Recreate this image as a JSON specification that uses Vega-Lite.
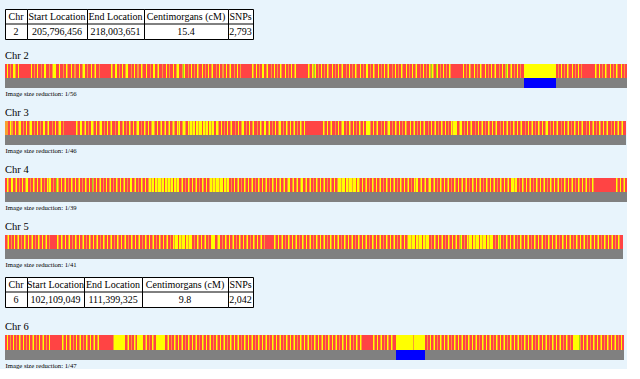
{
"$schema":"https://vega.github.io/schema/vega-lite/v6.json",
"background":"#E8F4FC",
"padding":{"left":4,"top":8,"right":0,"bottom":0},
"config":{"view":{"stroke":null},"font":"Liberation Serif","title":{"font":"Liberation Serif","fontWeight":"normal","color":"black"}},
"datasets":{
"t1":[{"col":"Chr","r":"h","t":"Chr"},{"col":"Chr","r":"d","t":"2"},{"col":"Start","r":"h","t":"Start Location"},{"col":"Start","r":"d","t":"205,796,456"},{"col":"End","r":"h","t":"End Location"},{"col":"End","r":"d","t":"218,003,651"},{"col":"cM","r":"h","t":"Centimorgans (cM)"},{"col":"cM","r":"d","t":"15.4"},{"col":"SNPs","r":"h","t":"SNPs"},{"col":"SNPs","r":"d","t":"2,793"}],
"t2":[{"col":"Chr","r":"h","t":"Chr"},{"col":"Chr","r":"d","t":"6"},{"col":"Start","r":"h","t":"Start Location"},{"col":"Start","r":"d","t":"102,109,049"},{"col":"End","r":"h","t":"End Location"},{"col":"End","r":"d","t":"111,399,325"},{"col":"cM","r":"h","t":"Centimorgans (cM)"},{"col":"cM","r":"d","t":"9.8"},{"col":"SNPs","r":"h","t":"SNPs"},{"col":"SNPs","r":"d","t":"2,042"}],
"c2":[{"s":0,"c":"R"},{"s":2,"c":"Y"},{"s":3,"c":"R"},{"s":5,"c":"O"},{"s":6,"c":"R"},{"s":8,"c":"Y"},{"s":10,"c":"O"},{"s":11,"c":"R"},{"s":13,"c":"Y"},{"s":14,"c":"R"},{"s":26,"c":"Y"},{"s":27,"c":"R"},{"s":29,"c":"O"},{"s":30,"c":"R"},{"s":32,"c":"Y"},{"s":33,"c":"R"},{"s":36,"c":"O"},{"s":37,"c":"R"},{"s":39,"c":"Y"},{"s":41,"c":"R"},{"s":44,"c":"O"},{"s":45,"c":"R"},{"s":47,"c":"O"},{"s":48,"c":"Y"},{"s":51,"c":"R"},{"s":54,"c":"Y"},{"s":55,"c":"R"},{"s":58,"c":"O"},{"s":59,"c":"R"},{"s":61,"c":"Y"},{"s":62,"c":"O"},{"s":63,"c":"R"},{"s":66,"c":"Y"},{"s":67,"c":"R"},{"s":69,"c":"O"},{"s":71,"c":"R"},{"s":74,"c":"Y"},{"s":75,"c":"R"},{"s":77,"c":"O"},{"s":78,"c":"Y"},{"s":80,"c":"R"},{"s":82,"c":"O"},{"s":83,"c":"R"},{"s":86,"c":"Y"},{"s":87,"c":"R"},{"s":89,"c":"O"},{"s":90,"c":"Y"},{"s":91,"c":"R"},{"s":94,"c":"O"},{"s":95,"c":"R"},{"s":106,"c":"Y"},{"s":107,"c":"O"},{"s":108,"c":"R"},{"s":110,"c":"Y"},{"s":112,"c":"R"},{"s":114,"c":"O"},{"s":115,"c":"R"},{"s":117,"c":"Y"},{"s":118,"c":"R"},{"s":120,"c":"O"},{"s":121,"c":"Y"},{"s":123,"c":"R"},{"s":126,"c":"O"},{"s":127,"c":"R"},{"s":129,"c":"Y"},{"s":130,"c":"R"},{"s":132,"c":"O"},{"s":134,"c":"R"},{"s":136,"c":"Y"},{"s":137,"c":"O"},{"s":138,"c":"R"},{"s":141,"c":"Y"},{"s":142,"c":"R"},{"s":145,"c":"O"},{"s":146,"c":"R"},{"s":148,"c":"Y"},{"s":150,"c":"R"},{"s":152,"c":"O"},{"s":153,"c":"Y"},{"s":154,"c":"R"},{"s":157,"c":"O"},{"s":158,"c":"R"},{"s":161,"c":"Y"},{"s":162,"c":"R"},{"s":164,"c":"O"},{"s":165,"c":"R"},{"s":168,"c":"Y"},{"s":169,"c":"R"},{"s":171,"c":"O"},{"s":172,"c":"Y"},{"s":174,"c":"R"},{"s":177,"c":"O"},{"s":178,"c":"G"},{"s":179,"c":"Y"},{"s":180,"c":"R"},{"s":183,"c":"O"},{"s":184,"c":"R"},{"s":186,"c":"Y"},{"s":187,"c":"R"},{"s":189,"c":"O"},{"s":190,"c":"R"},{"s":192,"c":"Y"},{"s":193,"c":"O"},{"s":194,"c":"R"},{"s":197,"c":"Y"},{"s":198,"c":"R"},{"s":200,"c":"O"},{"s":201,"c":"R"},{"s":203,"c":"Y"},{"s":204,"c":"R"},{"s":206,"c":"O"},{"s":207,"c":"Y"},{"s":208,"c":"R"},{"s":211,"c":"O"},{"s":212,"c":"R"},{"s":214,"c":"Y"},{"s":215,"c":"R"},{"s":217,"c":"O"},{"s":219,"c":"R"},{"s":221,"c":"Y"},{"s":222,"c":"R"},{"s":224,"c":"O"},{"s":225,"c":"Y"},{"s":226,"c":"R"},{"s":229,"c":"O"},{"s":230,"c":"R"},{"s":232,"c":"Y"},{"s":233,"c":"R"},{"s":235,"c":"O"},{"s":236,"c":"R"},{"s":247,"c":"Y"},{"s":248,"c":"O"},{"s":249,"c":"R"},{"s":251,"c":"Y"},{"s":252,"c":"R"},{"s":254,"c":"O"},{"s":255,"c":"R"},{"s":257,"c":"Y"},{"s":259,"c":"R"},{"s":261,"c":"O"},{"s":262,"c":"Y"},{"s":263,"c":"R"},{"s":266,"c":"O"},{"s":267,"c":"R"},{"s":269,"c":"Y"},{"s":270,"c":"R"},{"s":272,"c":"O"},{"s":273,"c":"R"},{"s":275,"c":"Y"},{"s":276,"c":"O"},{"s":277,"c":"R"},{"s":280,"c":"Y"},{"s":281,"c":"R"},{"s":283,"c":"O"},{"s":284,"c":"R"},{"s":286,"c":"Y"},{"s":287,"c":"R"},{"s":289,"c":"O"},{"s":290,"c":"Y"},{"s":291,"c":"R"},{"s":303,"c":"Y"},{"s":304,"c":"O"},{"s":305,"c":"R"},{"s":307,"c":"Y"},{"s":308,"c":"O"},{"s":309,"c":"G"},{"s":310,"c":"Y"},{"s":311,"c":"R"},{"s":313,"c":"O"},{"s":314,"c":"R"},{"s":316,"c":"Y"},{"s":317,"c":"R"},{"s":319,"c":"O"},{"s":320,"c":"R"},{"s":322,"c":"Y"},{"s":323,"c":"O"},{"s":324,"c":"R"},{"s":327,"c":"Y"},{"s":328,"c":"R"},{"s":330,"c":"O"},{"s":331,"c":"R"},{"s":333,"c":"Y"},{"s":334,"c":"R"},{"s":336,"c":"O"},{"s":337,"c":"Y"},{"s":338,"c":"R"},{"s":341,"c":"O"},{"s":342,"c":"R"},{"s":344,"c":"Y"},{"s":345,"c":"R"},{"s":347,"c":"O"},{"s":348,"c":"R"},{"s":350,"c":"Y"},{"s":351,"c":"O"},{"s":352,"c":"R"},{"s":355,"c":"Y"},{"s":356,"c":"R"},{"s":358,"c":"O"},{"s":359,"c":"R"},{"s":361,"c":"Y"},{"s":363,"c":"R"},{"s":365,"c":"O"},{"s":366,"c":"R"},{"s":368,"c":"Y"},{"s":369,"c":"O"},{"s":370,"c":"R"},{"s":373,"c":"Y"},{"s":374,"c":"R"},{"s":376,"c":"O"},{"s":377,"c":"R"},{"s":379,"c":"Y"},{"s":380,"c":"R"},{"s":382,"c":"O"},{"s":383,"c":"Y"},{"s":384,"c":"R"},{"s":387,"c":"O"},{"s":388,"c":"R"},{"s":390,"c":"Y"},{"s":391,"c":"R"},{"s":393,"c":"O"},{"s":394,"c":"R"},{"s":396,"c":"Y"},{"s":397,"c":"O"},{"s":398,"c":"R"},{"s":401,"c":"Y"},{"s":402,"c":"R"},{"s":404,"c":"O"},{"s":405,"c":"R"},{"s":407,"c":"Y"},{"s":408,"c":"R"},{"s":410,"c":"O"},{"s":411,"c":"Y"},{"s":412,"c":"R"},{"s":415,"c":"O"},{"s":416,"c":"R"},{"s":418,"c":"Y"},{"s":419,"c":"R"},{"s":421,"c":"O"},{"s":422,"c":"R"},{"s":424,"c":"Y"},{"s":425,"c":"O"},{"s":426,"c":"G"},{"s":427,"c":"Y"},{"s":428,"c":"O"},{"s":429,"c":"R"},{"s":431,"c":"G"},{"s":432,"c":"Y"},{"s":433,"c":"R"},{"s":435,"c":"O"},{"s":436,"c":"R"},{"s":438,"c":"Y"},{"s":439,"c":"R"},{"s":441,"c":"O"},{"s":442,"c":"R"},{"s":444,"c":"Y"},{"s":445,"c":"O"},{"s":446,"c":"R"},{"s":458,"c":"Y"},{"s":459,"c":"R"},{"s":461,"c":"O"},{"s":462,"c":"R"},{"s":464,"c":"Y"},{"s":465,"c":"O"},{"s":466,"c":"R"},{"s":469,"c":"Y"},{"s":470,"c":"R"},{"s":472,"c":"O"},{"s":473,"c":"R"},{"s":475,"c":"Y"},{"s":476,"c":"O"},{"s":477,"c":"R"},{"s":480,"c":"Y"},{"s":481,"c":"R"},{"s":483,"c":"O"},{"s":484,"c":"R"},{"s":486,"c":"Y"},{"s":487,"c":"R"},{"s":489,"c":"O"},{"s":490,"c":"Y"},{"s":491,"c":"R"},{"s":494,"c":"O"},{"s":495,"c":"R"},{"s":497,"c":"Y"},{"s":498,"c":"R"},{"s":500,"c":"O"},{"s":501,"c":"G"},{"s":502,"c":"Y"},{"s":503,"c":"R"},{"s":505,"c":"O"},{"s":506,"c":"Y"},{"s":507,"c":"R"},{"s":509,"c":"O"},{"s":510,"c":"R"},{"s":512,"c":"Y"},{"s":513,"c":"R"},{"s":515,"c":"O"},{"s":516,"c":"R"},{"s":519,"c":"Y"},{"s":551,"c":"R"},{"s":553,"c":"O"},{"s":554,"c":"R"},{"s":556,"c":"Y"},{"s":557,"c":"R"},{"s":559,"c":"O"},{"s":560,"c":"R"},{"s":562,"c":"Y"},{"s":563,"c":"O"},{"s":564,"c":"R"},{"s":567,"c":"Y"},{"s":568,"c":"R"},{"s":570,"c":"O"},{"s":571,"c":"R"},{"s":573,"c":"Y"},{"s":574,"c":"R"},{"s":576,"c":"O"},{"s":577,"c":"R"},{"s":590,"c":"Y"},{"s":591,"c":"O"},{"s":592,"c":"R"},{"s":594,"c":"Y"},{"s":595,"c":"R"},{"s":597,"c":"O"},{"s":598,"c":"R"},{"s":600,"c":"Y"},{"s":601,"c":"O"},{"s":602,"c":"R"},{"s":605,"c":"Y"},{"s":606,"c":"R"},{"s":608,"c":"O"},{"s":609,"c":"R"},{"s":611,"c":"Y"},{"s":612,"c":"O"},{"s":613,"c":"R"},{"s":616,"c":"Y"},{"s":617,"c":"R"},{"s":619,"c":"O"},{"s":620,"c":"R"}],
"c3":[{"s":0,"c":"O"},{"s":3,"c":"R"},{"s":5,"c":"Y"},{"s":6,"c":"O"},{"s":8,"c":"R"},{"s":10,"c":"Y"},{"s":11,"c":"R"},{"s":13,"c":"O"},{"s":14,"c":"Y"},{"s":16,"c":"R"},{"s":18,"c":"O"},{"s":19,"c":"R"},{"s":21,"c":"Y"},{"s":22,"c":"R"},{"s":24,"c":"O"},{"s":25,"c":"Y"},{"s":27,"c":"R"},{"s":29,"c":"O"},{"s":30,"c":"R"},{"s":32,"c":"Y"},{"s":33,"c":"R"},{"s":35,"c":"O"},{"s":36,"c":"R"},{"s":38,"c":"Y"},{"s":40,"c":"R"},{"s":42,"c":"O"},{"s":43,"c":"Y"},{"s":44,"c":"R"},{"s":47,"c":"O"},{"s":48,"c":"R"},{"s":50,"c":"Y"},{"s":51,"c":"R"},{"s":53,"c":"O"},{"s":54,"c":"Y"},{"s":56,"c":"R"},{"s":58,"c":"O"},{"s":59,"c":"R"},{"s":71,"c":"Y"},{"s":72,"c":"O"},{"s":73,"c":"R"},{"s":75,"c":"Y"},{"s":77,"c":"R"},{"s":79,"c":"O"},{"s":80,"c":"Y"},{"s":81,"c":"R"},{"s":83,"c":"O"},{"s":84,"c":"R"},{"s":86,"c":"Y"},{"s":88,"c":"O"},{"s":89,"c":"R"},{"s":91,"c":"Y"},{"s":92,"c":"R"},{"s":94,"c":"O"},{"s":95,"c":"Y"},{"s":97,"c":"R"},{"s":99,"c":"O"},{"s":100,"c":"R"},{"s":102,"c":"Y"},{"s":103,"c":"R"},{"s":105,"c":"O"},{"s":106,"c":"Y"},{"s":107,"c":"R"},{"s":110,"c":"O"},{"s":111,"c":"R"},{"s":113,"c":"Y"},{"s":115,"c":"R"},{"s":117,"c":"O"},{"s":118,"c":"Y"},{"s":119,"c":"R"},{"s":121,"c":"O"},{"s":122,"c":"R"},{"s":124,"c":"Y"},{"s":125,"c":"O"},{"s":126,"c":"R"},{"s":128,"c":"Y"},{"s":129,"c":"R"},{"s":131,"c":"O"},{"s":132,"c":"Y"},{"s":134,"c":"R"},{"s":136,"c":"O"},{"s":137,"c":"R"},{"s":139,"c":"Y"},{"s":140,"c":"O"},{"s":141,"c":"R"},{"s":143,"c":"Y"},{"s":144,"c":"R"},{"s":146,"c":"O"},{"s":147,"c":"Y"},{"s":149,"c":"O"},{"s":150,"c":"R"},{"s":152,"c":"Y"},{"s":153,"c":"R"},{"s":155,"c":"O"},{"s":156,"c":"Y"},{"s":157,"c":"R"},{"s":159,"c":"O"},{"s":160,"c":"Y"},{"s":161,"c":"R"},{"s":163,"c":"O"},{"s":164,"c":"Y"},{"s":165,"c":"R"},{"s":167,"c":"O"},{"s":168,"c":"Y"},{"s":169,"c":"O"},{"s":170,"c":"R"},{"s":172,"c":"Y"},{"s":173,"c":"O"},{"s":174,"c":"Y"},{"s":175,"c":"R"},{"s":177,"c":"O"},{"s":178,"c":"Y"},{"s":180,"c":"O"},{"s":181,"c":"R"},{"s":183,"c":"Y"},{"s":184,"c":"O"},{"s":185,"c":"Y"},{"s":187,"c":"O"},{"s":188,"c":"Y"},{"s":190,"c":"R"},{"s":191,"c":"Y"},{"s":193,"c":"O"},{"s":194,"c":"Y"},{"s":197,"c":"R"},{"s":198,"c":"Y"},{"s":200,"c":"O"},{"s":201,"c":"Y"},{"s":203,"c":"R"},{"s":204,"c":"Y"},{"s":206,"c":"O"},{"s":207,"c":"Y"},{"s":209,"c":"R"},{"s":211,"c":"Y"},{"s":213,"c":"O"},{"s":214,"c":"R"},{"s":216,"c":"Y"},{"s":217,"c":"R"},{"s":219,"c":"O"},{"s":220,"c":"R"},{"s":222,"c":"Y"},{"s":223,"c":"R"},{"s":225,"c":"O"},{"s":226,"c":"Y"},{"s":227,"c":"R"},{"s":230,"c":"O"},{"s":231,"c":"R"},{"s":233,"c":"Y"},{"s":234,"c":"R"},{"s":236,"c":"O"},{"s":237,"c":"Y"},{"s":239,"c":"R"},{"s":241,"c":"O"},{"s":242,"c":"R"},{"s":244,"c":"Y"},{"s":245,"c":"R"},{"s":247,"c":"O"},{"s":248,"c":"Y"},{"s":249,"c":"R"},{"s":252,"c":"O"},{"s":253,"c":"R"},{"s":255,"c":"Y"},{"s":256,"c":"O"},{"s":257,"c":"R"},{"s":259,"c":"Y"},{"s":261,"c":"R"},{"s":263,"c":"O"},{"s":264,"c":"Y"},{"s":265,"c":"R"},{"s":267,"c":"O"},{"s":268,"c":"R"},{"s":270,"c":"Y"},{"s":271,"c":"R"},{"s":273,"c":"O"},{"s":274,"c":"Y"},{"s":276,"c":"R"},{"s":278,"c":"O"},{"s":279,"c":"R"},{"s":281,"c":"Y"},{"s":282,"c":"O"},{"s":283,"c":"R"},{"s":285,"c":"Y"},{"s":286,"c":"R"},{"s":288,"c":"O"},{"s":289,"c":"Y"},{"s":290,"c":"R"},{"s":292,"c":"O"},{"s":293,"c":"R"},{"s":295,"c":"Y"},{"s":296,"c":"O"},{"s":297,"c":"R"},{"s":299,"c":"Y"},{"s":300,"c":"R"},{"s":318,"c":"Y"},{"s":319,"c":"O"},{"s":320,"c":"R"},{"s":322,"c":"Y"},{"s":323,"c":"R"},{"s":325,"c":"O"},{"s":326,"c":"Y"},{"s":327,"c":"R"},{"s":330,"c":"O"},{"s":331,"c":"R"},{"s":333,"c":"Y"},{"s":334,"c":"R"},{"s":336,"c":"O"},{"s":337,"c":"Y"},{"s":339,"c":"R"},{"s":341,"c":"O"},{"s":342,"c":"R"},{"s":344,"c":"Y"},{"s":345,"c":"O"},{"s":346,"c":"R"},{"s":348,"c":"Y"},{"s":349,"c":"R"},{"s":351,"c":"O"},{"s":352,"c":"R"},{"s":354,"c":"Y"},{"s":355,"c":"O"},{"s":356,"c":"R"},{"s":358,"c":"Y"},{"s":359,"c":"R"},{"s":361,"c":"Y"},{"s":365,"c":"O"},{"s":366,"c":"R"},{"s":368,"c":"Y"},{"s":369,"c":"R"},{"s":371,"c":"O"},{"s":372,"c":"Y"},{"s":373,"c":"R"},{"s":376,"c":"O"},{"s":377,"c":"R"},{"s":379,"c":"Y"},{"s":380,"c":"R"},{"s":382,"c":"O"},{"s":383,"c":"Y"},{"s":385,"c":"R"},{"s":387,"c":"O"},{"s":388,"c":"R"},{"s":390,"c":"Y"},{"s":391,"c":"O"},{"s":392,"c":"R"},{"s":394,"c":"Y"},{"s":395,"c":"R"},{"s":397,"c":"O"},{"s":398,"c":"R"},{"s":400,"c":"Y"},{"s":401,"c":"O"},{"s":402,"c":"R"},{"s":405,"c":"Y"},{"s":406,"c":"R"},{"s":408,"c":"O"},{"s":409,"c":"Y"},{"s":410,"c":"R"},{"s":412,"c":"O"},{"s":413,"c":"R"},{"s":415,"c":"Y"},{"s":416,"c":"R"},{"s":418,"c":"O"},{"s":419,"c":"Y"},{"s":420,"c":"R"},{"s":423,"c":"O"},{"s":424,"c":"R"},{"s":426,"c":"Y"},{"s":427,"c":"R"},{"s":429,"c":"O"},{"s":430,"c":"Y"},{"s":431,"c":"R"},{"s":433,"c":"O"},{"s":434,"c":"R"},{"s":436,"c":"Y"},{"s":437,"c":"O"},{"s":438,"c":"R"},{"s":440,"c":"Y"},{"s":441,"c":"R"},{"s":443,"c":"O"},{"s":444,"c":"R"},{"s":446,"c":"Y"},{"s":447,"c":"O"},{"s":448,"c":"Y"},{"s":452,"c":"R"},{"s":454,"c":"O"},{"s":455,"c":"Y"},{"s":457,"c":"R"},{"s":459,"c":"O"},{"s":460,"c":"R"},{"s":462,"c":"Y"},{"s":463,"c":"R"},{"s":465,"c":"O"},{"s":466,"c":"Y"},{"s":467,"c":"R"},{"s":470,"c":"O"},{"s":471,"c":"R"},{"s":473,"c":"Y"},{"s":474,"c":"R"},{"s":476,"c":"O"},{"s":477,"c":"Y"},{"s":478,"c":"R"},{"s":480,"c":"O"},{"s":481,"c":"R"},{"s":483,"c":"Y"},{"s":484,"c":"O"},{"s":485,"c":"R"},{"s":487,"c":"Y"},{"s":488,"c":"R"},{"s":490,"c":"O"},{"s":491,"c":"Y"},{"s":492,"c":"R"},{"s":495,"c":"O"},{"s":496,"c":"R"},{"s":498,"c":"Y"},{"s":499,"c":"R"},{"s":501,"c":"O"},{"s":502,"c":"Y"},{"s":503,"c":"R"},{"s":505,"c":"O"},{"s":506,"c":"R"},{"s":508,"c":"Y"},{"s":509,"c":"O"},{"s":510,"c":"R"},{"s":512,"c":"Y"},{"s":513,"c":"R"},{"s":515,"c":"O"},{"s":516,"c":"Y"},{"s":517,"c":"R"},{"s":520,"c":"O"},{"s":521,"c":"R"},{"s":523,"c":"Y"},{"s":524,"c":"R"},{"s":526,"c":"O"},{"s":527,"c":"Y"},{"s":528,"c":"R"},{"s":530,"c":"O"},{"s":531,"c":"R"},{"s":533,"c":"Y"},{"s":534,"c":"O"},{"s":535,"c":"R"},{"s":537,"c":"Y"},{"s":538,"c":"R"},{"s":540,"c":"O"},{"s":541,"c":"Y"},{"s":543,"c":"R"},{"s":545,"c":"O"},{"s":546,"c":"R"},{"s":548,"c":"Y"},{"s":549,"c":"R"},{"s":551,"c":"O"},{"s":552,"c":"Y"},{"s":553,"c":"R"},{"s":556,"c":"O"},{"s":557,"c":"R"},{"s":559,"c":"Y"},{"s":560,"c":"R"},{"s":562,"c":"O"},{"s":563,"c":"Y"},{"s":564,"c":"R"},{"s":566,"c":"O"},{"s":567,"c":"R"},{"s":569,"c":"Y"},{"s":570,"c":"O"},{"s":571,"c":"R"},{"s":573,"c":"Y"},{"s":574,"c":"R"},{"s":576,"c":"O"},{"s":577,"c":"Y"},{"s":578,"c":"R"},{"s":581,"c":"O"},{"s":582,"c":"R"},{"s":584,"c":"Y"},{"s":585,"c":"R"},{"s":587,"c":"O"},{"s":588,"c":"Y"},{"s":589,"c":"R"},{"s":591,"c":"O"},{"s":592,"c":"R"},{"s":594,"c":"Y"},{"s":595,"c":"O"},{"s":596,"c":"R"},{"s":598,"c":"Y"},{"s":599,"c":"R"},{"s":601,"c":"O"},{"s":602,"c":"Y"},{"s":603,"c":"R"},{"s":606,"c":"O"},{"s":607,"c":"R"},{"s":609,"c":"Y"},{"s":610,"c":"R"},{"s":612,"c":"O"},{"s":613,"c":"Y"},{"s":614,"c":"R"},{"s":616,"c":"O"},{"s":617,"c":"Y"},{"s":618,"c":"R"}],
"c4":[{"s":0,"c":"R"},{"s":2,"c":"Y"},{"s":3,"c":"O"},{"s":4,"c":"R"},{"s":6,"c":"Y"},{"s":8,"c":"R"},{"s":10,"c":"O"},{"s":11,"c":"Y"},{"s":12,"c":"R"},{"s":14,"c":"O"},{"s":15,"c":"R"},{"s":17,"c":"Y"},{"s":18,"c":"R"},{"s":20,"c":"O"},{"s":21,"c":"Y"},{"s":23,"c":"R"},{"s":25,"c":"O"},{"s":26,"c":"R"},{"s":28,"c":"Y"},{"s":29,"c":"O"},{"s":30,"c":"R"},{"s":32,"c":"Y"},{"s":33,"c":"R"},{"s":35,"c":"O"},{"s":36,"c":"Y"},{"s":37,"c":"R"},{"s":39,"c":"O"},{"s":40,"c":"R"},{"s":42,"c":"Y"},{"s":43,"c":"O"},{"s":44,"c":"Y"},{"s":46,"c":"R"},{"s":48,"c":"O"},{"s":49,"c":"R"},{"s":51,"c":"G"},{"s":52,"c":"Y"},{"s":53,"c":"O"},{"s":54,"c":"R"},{"s":56,"c":"Y"},{"s":57,"c":"R"},{"s":59,"c":"O"},{"s":60,"c":"Y"},{"s":61,"c":"R"},{"s":63,"c":"O"},{"s":64,"c":"R"},{"s":66,"c":"Y"},{"s":67,"c":"O"},{"s":68,"c":"R"},{"s":70,"c":"Y"},{"s":71,"c":"R"},{"s":73,"c":"O"},{"s":74,"c":"Y"},{"s":75,"c":"R"},{"s":77,"c":"O"},{"s":78,"c":"R"},{"s":80,"c":"Y"},{"s":81,"c":"O"},{"s":82,"c":"R"},{"s":84,"c":"Y"},{"s":85,"c":"R"},{"s":87,"c":"G"},{"s":88,"c":"O"},{"s":89,"c":"R"},{"s":91,"c":"Y"},{"s":92,"c":"R"},{"s":94,"c":"O"},{"s":95,"c":"Y"},{"s":96,"c":"R"},{"s":98,"c":"O"},{"s":99,"c":"R"},{"s":101,"c":"Y"},{"s":102,"c":"R"},{"s":104,"c":"O"},{"s":105,"c":"Y"},{"s":106,"c":"R"},{"s":108,"c":"O"},{"s":109,"c":"R"},{"s":111,"c":"Y"},{"s":112,"c":"O"},{"s":113,"c":"R"},{"s":115,"c":"Y"},{"s":116,"c":"R"},{"s":118,"c":"O"},{"s":119,"c":"Y"},{"s":120,"c":"R"},{"s":122,"c":"O"},{"s":123,"c":"R"},{"s":125,"c":"Y"},{"s":127,"c":"R"},{"s":129,"c":"O"},{"s":130,"c":"Y"},{"s":131,"c":"R"},{"s":133,"c":"O"},{"s":134,"c":"R"},{"s":136,"c":"Y"},{"s":137,"c":"O"},{"s":138,"c":"R"},{"s":140,"c":"Y"},{"s":141,"c":"R"},{"s":143,"c":"O"},{"s":144,"c":"Y"},{"s":146,"c":"O"},{"s":147,"c":"Y"},{"s":149,"c":"R"},{"s":150,"c":"Y"},{"s":152,"c":"O"},{"s":153,"c":"Y"},{"s":156,"c":"O"},{"s":157,"c":"Y"},{"s":159,"c":"R"},{"s":160,"c":"Y"},{"s":162,"c":"O"},{"s":163,"c":"Y"},{"s":165,"c":"O"},{"s":166,"c":"Y"},{"s":168,"c":"R"},{"s":169,"c":"Y"},{"s":171,"c":"O"},{"s":172,"c":"Y"},{"s":174,"c":"R"},{"s":176,"c":"O"},{"s":177,"c":"Y"},{"s":178,"c":"R"},{"s":180,"c":"O"},{"s":181,"c":"R"},{"s":183,"c":"Y"},{"s":184,"c":"O"},{"s":185,"c":"R"},{"s":187,"c":"Y"},{"s":188,"c":"R"},{"s":190,"c":"O"},{"s":191,"c":"Y"},{"s":192,"c":"R"},{"s":194,"c":"O"},{"s":195,"c":"R"},{"s":197,"c":"Y"},{"s":198,"c":"O"},{"s":199,"c":"R"},{"s":201,"c":"Y"},{"s":202,"c":"R"},{"s":204,"c":"O"},{"s":205,"c":"Y"},{"s":207,"c":"O"},{"s":208,"c":"Y"},{"s":210,"c":"O"},{"s":211,"c":"Y"},{"s":214,"c":"O"},{"s":215,"c":"Y"},{"s":218,"c":"R"},{"s":219,"c":"Y"},{"s":221,"c":"O"},{"s":222,"c":"Y"},{"s":224,"c":"R"},{"s":226,"c":"O"},{"s":227,"c":"R"},{"s":229,"c":"Y"},{"s":230,"c":"R"},{"s":232,"c":"O"},{"s":233,"c":"Y"},{"s":234,"c":"R"},{"s":236,"c":"O"},{"s":237,"c":"R"},{"s":239,"c":"Y"},{"s":240,"c":"O"},{"s":241,"c":"R"},{"s":243,"c":"Y"},{"s":244,"c":"R"},{"s":246,"c":"O"},{"s":247,"c":"Y"},{"s":248,"c":"R"},{"s":250,"c":"O"},{"s":251,"c":"R"},{"s":253,"c":"Y"},{"s":254,"c":"O"},{"s":255,"c":"R"},{"s":257,"c":"Y"},{"s":258,"c":"R"},{"s":260,"c":"O"},{"s":261,"c":"Y"},{"s":262,"c":"R"},{"s":264,"c":"O"},{"s":265,"c":"R"},{"s":267,"c":"Y"},{"s":268,"c":"O"},{"s":269,"c":"R"},{"s":271,"c":"Y"},{"s":272,"c":"R"},{"s":274,"c":"O"},{"s":275,"c":"Y"},{"s":276,"c":"R"},{"s":278,"c":"O"},{"s":279,"c":"Y"},{"s":280,"c":"R"},{"s":282,"c":"O"},{"s":283,"c":"Y"},{"s":285,"c":"R"},{"s":287,"c":"O"},{"s":288,"c":"Y"},{"s":289,"c":"R"},{"s":291,"c":"O"},{"s":292,"c":"Y"},{"s":293,"c":"R"},{"s":295,"c":"O"},{"s":296,"c":"Y"},{"s":298,"c":"R"},{"s":300,"c":"O"},{"s":301,"c":"Y"},{"s":302,"c":"R"},{"s":304,"c":"O"},{"s":305,"c":"Y"},{"s":306,"c":"R"},{"s":308,"c":"O"},{"s":309,"c":"R"},{"s":311,"c":"Y"},{"s":312,"c":"O"},{"s":313,"c":"R"},{"s":315,"c":"Y"},{"s":316,"c":"R"},{"s":318,"c":"O"},{"s":319,"c":"Y"},{"s":320,"c":"R"},{"s":322,"c":"O"},{"s":323,"c":"R"},{"s":325,"c":"Y"},{"s":326,"c":"O"},{"s":327,"c":"R"},{"s":329,"c":"Y"},{"s":330,"c":"R"},{"s":332,"c":"O"},{"s":333,"c":"Y"},{"s":336,"c":"O"},{"s":337,"c":"Y"},{"s":340,"c":"R"},{"s":341,"c":"Y"},{"s":343,"c":"O"},{"s":344,"c":"Y"},{"s":347,"c":"O"},{"s":348,"c":"Y"},{"s":351,"c":"R"},{"s":352,"c":"Y"},{"s":354,"c":"O"},{"s":355,"c":"R"},{"s":357,"c":"Y"},{"s":358,"c":"R"},{"s":360,"c":"O"},{"s":361,"c":"Y"},{"s":362,"c":"R"},{"s":364,"c":"O"},{"s":365,"c":"R"},{"s":367,"c":"Y"},{"s":368,"c":"O"},{"s":369,"c":"R"},{"s":371,"c":"Y"},{"s":372,"c":"R"},{"s":374,"c":"O"},{"s":375,"c":"Y"},{"s":376,"c":"R"},{"s":378,"c":"O"},{"s":379,"c":"R"},{"s":381,"c":"Y"},{"s":382,"c":"O"},{"s":383,"c":"R"},{"s":385,"c":"Y"},{"s":386,"c":"R"},{"s":388,"c":"O"},{"s":389,"c":"Y"},{"s":390,"c":"R"},{"s":392,"c":"O"},{"s":393,"c":"R"},{"s":395,"c":"Y"},{"s":396,"c":"O"},{"s":397,"c":"R"},{"s":399,"c":"Y"},{"s":400,"c":"R"},{"s":402,"c":"O"},{"s":403,"c":"Y"},{"s":404,"c":"R"},{"s":406,"c":"O"},{"s":407,"c":"R"},{"s":409,"c":"Y"},{"s":410,"c":"O"},{"s":411,"c":"Y"},{"s":413,"c":"R"},{"s":415,"c":"O"},{"s":416,"c":"Y"},{"s":417,"c":"R"},{"s":419,"c":"O"},{"s":420,"c":"Y"},{"s":421,"c":"R"},{"s":423,"c":"O"},{"s":424,"c":"Y"},{"s":426,"c":"R"},{"s":428,"c":"O"},{"s":429,"c":"Y"},{"s":430,"c":"R"},{"s":432,"c":"O"},{"s":433,"c":"R"},{"s":435,"c":"Y"},{"s":436,"c":"O"},{"s":437,"c":"R"},{"s":439,"c":"Y"},{"s":440,"c":"R"},{"s":442,"c":"O"},{"s":443,"c":"Y"},{"s":444,"c":"R"},{"s":446,"c":"O"},{"s":447,"c":"R"},{"s":449,"c":"Y"},{"s":450,"c":"O"},{"s":451,"c":"R"},{"s":453,"c":"Y"},{"s":454,"c":"R"},{"s":456,"c":"O"},{"s":457,"c":"Y"},{"s":458,"c":"R"},{"s":460,"c":"O"},{"s":461,"c":"Y"},{"s":462,"c":"R"},{"s":464,"c":"O"},{"s":465,"c":"R"},{"s":467,"c":"Y"},{"s":468,"c":"O"},{"s":469,"c":"R"},{"s":471,"c":"Y"},{"s":472,"c":"R"},{"s":474,"c":"O"},{"s":475,"c":"Y"},{"s":476,"c":"R"},{"s":478,"c":"O"},{"s":479,"c":"R"},{"s":481,"c":"Y"},{"s":482,"c":"O"},{"s":483,"c":"R"},{"s":485,"c":"Y"},{"s":486,"c":"R"},{"s":488,"c":"O"},{"s":489,"c":"Y"},{"s":490,"c":"R"},{"s":492,"c":"O"},{"s":493,"c":"R"},{"s":495,"c":"Y"},{"s":496,"c":"O"},{"s":497,"c":"R"},{"s":499,"c":"Y"},{"s":500,"c":"R"},{"s":502,"c":"O"},{"s":503,"c":"Y"},{"s":504,"c":"R"},{"s":506,"c":"Y"},{"s":509,"c":"O"},{"s":510,"c":"Y"},{"s":512,"c":"R"},{"s":514,"c":"O"},{"s":515,"c":"R"},{"s":517,"c":"Y"},{"s":518,"c":"O"},{"s":519,"c":"R"},{"s":521,"c":"Y"},{"s":522,"c":"R"},{"s":524,"c":"O"},{"s":525,"c":"Y"},{"s":526,"c":"R"},{"s":528,"c":"O"},{"s":529,"c":"R"},{"s":531,"c":"Y"},{"s":532,"c":"O"},{"s":533,"c":"R"},{"s":535,"c":"Y"},{"s":536,"c":"R"},{"s":538,"c":"O"},{"s":539,"c":"Y"},{"s":540,"c":"R"},{"s":542,"c":"O"},{"s":543,"c":"R"},{"s":545,"c":"Y"},{"s":546,"c":"O"},{"s":547,"c":"R"},{"s":549,"c":"Y"},{"s":550,"c":"R"},{"s":552,"c":"O"},{"s":553,"c":"Y"},{"s":554,"c":"R"},{"s":556,"c":"O"},{"s":557,"c":"R"},{"s":559,"c":"Y"},{"s":560,"c":"O"},{"s":561,"c":"R"},{"s":563,"c":"Y"},{"s":564,"c":"R"},{"s":566,"c":"O"},{"s":567,"c":"Y"},{"s":568,"c":"R"},{"s":570,"c":"O"},{"s":571,"c":"R"},{"s":573,"c":"Y"},{"s":574,"c":"O"},{"s":575,"c":"R"},{"s":577,"c":"Y"},{"s":578,"c":"R"},{"s":580,"c":"O"},{"s":581,"c":"Y"},{"s":582,"c":"R"},{"s":584,"c":"O"},{"s":585,"c":"R"},{"s":587,"c":"Y"},{"s":588,"c":"O"},{"s":589,"c":"R"},{"s":611,"c":"Y"},{"s":612,"c":"O"},{"s":613,"c":"R"},{"s":615,"c":"Y"},{"s":616,"c":"R"},{"s":618,"c":"O"},{"s":619,"c":"Y"},{"s":620,"c":"R"}],
"c5":[{"s":0,"c":"R"},{"s":2,"c":"O"},{"s":3,"c":"Y"},{"s":4,"c":"R"},{"s":6,"c":"O"},{"s":7,"c":"R"},{"s":9,"c":"Y"},{"s":10,"c":"R"},{"s":12,"c":"O"},{"s":13,"c":"Y"},{"s":14,"c":"R"},{"s":16,"c":"O"},{"s":17,"c":"R"},{"s":19,"c":"Y"},{"s":20,"c":"O"},{"s":21,"c":"R"},{"s":23,"c":"Y"},{"s":24,"c":"R"},{"s":26,"c":"O"},{"s":27,"c":"Y"},{"s":28,"c":"R"},{"s":30,"c":"O"},{"s":31,"c":"R"},{"s":33,"c":"Y"},{"s":34,"c":"O"},{"s":35,"c":"R"},{"s":37,"c":"Y"},{"s":38,"c":"R"},{"s":40,"c":"O"},{"s":41,"c":"Y"},{"s":42,"c":"R"},{"s":44,"c":"O"},{"s":45,"c":"R"},{"s":52,"c":"Y"},{"s":53,"c":"O"},{"s":54,"c":"R"},{"s":56,"c":"Y"},{"s":57,"c":"O"},{"s":58,"c":"R"},{"s":60,"c":"Y"},{"s":61,"c":"R"},{"s":63,"c":"O"},{"s":64,"c":"Y"},{"s":65,"c":"R"},{"s":67,"c":"O"},{"s":68,"c":"R"},{"s":70,"c":"Y"},{"s":71,"c":"O"},{"s":72,"c":"R"},{"s":74,"c":"Y"},{"s":75,"c":"R"},{"s":77,"c":"O"},{"s":78,"c":"Y"},{"s":79,"c":"R"},{"s":81,"c":"O"},{"s":82,"c":"R"},{"s":84,"c":"Y"},{"s":85,"c":"O"},{"s":86,"c":"R"},{"s":88,"c":"Y"},{"s":89,"c":"R"},{"s":91,"c":"O"},{"s":92,"c":"Y"},{"s":93,"c":"R"},{"s":95,"c":"O"},{"s":96,"c":"R"},{"s":98,"c":"Y"},{"s":99,"c":"O"},{"s":100,"c":"R"},{"s":102,"c":"Y"},{"s":103,"c":"R"},{"s":105,"c":"O"},{"s":106,"c":"Y"},{"s":107,"c":"R"},{"s":109,"c":"O"},{"s":110,"c":"R"},{"s":112,"c":"Y"},{"s":113,"c":"O"},{"s":114,"c":"R"},{"s":116,"c":"Y"},{"s":117,"c":"R"},{"s":119,"c":"O"},{"s":120,"c":"Y"},{"s":121,"c":"R"},{"s":123,"c":"O"},{"s":124,"c":"R"},{"s":126,"c":"Y"},{"s":127,"c":"O"},{"s":128,"c":"R"},{"s":130,"c":"Y"},{"s":131,"c":"R"},{"s":133,"c":"O"},{"s":134,"c":"Y"},{"s":135,"c":"R"},{"s":137,"c":"O"},{"s":138,"c":"R"},{"s":140,"c":"Y"},{"s":141,"c":"O"},{"s":142,"c":"R"},{"s":144,"c":"Y"},{"s":145,"c":"R"},{"s":147,"c":"O"},{"s":148,"c":"Y"},{"s":149,"c":"R"},{"s":151,"c":"O"},{"s":152,"c":"R"},{"s":154,"c":"Y"},{"s":155,"c":"O"},{"s":156,"c":"R"},{"s":158,"c":"Y"},{"s":159,"c":"R"},{"s":161,"c":"O"},{"s":162,"c":"Y"},{"s":163,"c":"R"},{"s":165,"c":"O"},{"s":166,"c":"R"},{"s":168,"c":"Y"},{"s":169,"c":"O"},{"s":170,"c":"Y"},{"s":173,"c":"R"},{"s":174,"c":"Y"},{"s":176,"c":"O"},{"s":177,"c":"Y"},{"s":180,"c":"R"},{"s":181,"c":"Y"},{"s":183,"c":"O"},{"s":184,"c":"Y"},{"s":187,"c":"R"},{"s":189,"c":"O"},{"s":190,"c":"R"},{"s":192,"c":"Y"},{"s":193,"c":"O"},{"s":194,"c":"R"},{"s":196,"c":"Y"},{"s":197,"c":"R"},{"s":199,"c":"O"},{"s":200,"c":"Y"},{"s":201,"c":"R"},{"s":203,"c":"O"},{"s":204,"c":"R"},{"s":206,"c":"Y"},{"s":210,"c":"R"},{"s":212,"c":"O"},{"s":213,"c":"Y"},{"s":215,"c":"R"},{"s":217,"c":"O"},{"s":218,"c":"R"},{"s":220,"c":"Y"},{"s":221,"c":"O"},{"s":222,"c":"R"},{"s":224,"c":"Y"},{"s":225,"c":"R"},{"s":227,"c":"O"},{"s":228,"c":"Y"},{"s":229,"c":"R"},{"s":231,"c":"O"},{"s":232,"c":"R"},{"s":234,"c":"Y"},{"s":235,"c":"O"},{"s":236,"c":"R"},{"s":238,"c":"Y"},{"s":239,"c":"R"},{"s":241,"c":"O"},{"s":242,"c":"Y"},{"s":243,"c":"R"},{"s":245,"c":"O"},{"s":246,"c":"R"},{"s":248,"c":"Y"},{"s":249,"c":"O"},{"s":250,"c":"R"},{"s":252,"c":"Y"},{"s":253,"c":"R"},{"s":255,"c":"O"},{"s":256,"c":"Y"},{"s":257,"c":"R"},{"s":259,"c":"O"},{"s":260,"c":"R"},{"s":269,"c":"Y"},{"s":270,"c":"O"},{"s":271,"c":"R"},{"s":273,"c":"Y"},{"s":274,"c":"R"},{"s":276,"c":"O"},{"s":277,"c":"Y"},{"s":278,"c":"R"},{"s":280,"c":"O"},{"s":281,"c":"R"},{"s":283,"c":"Y"},{"s":284,"c":"O"},{"s":285,"c":"R"},{"s":287,"c":"Y"},{"s":288,"c":"R"},{"s":290,"c":"O"},{"s":291,"c":"Y"},{"s":292,"c":"R"},{"s":294,"c":"O"},{"s":295,"c":"R"},{"s":297,"c":"Y"},{"s":298,"c":"O"},{"s":299,"c":"R"},{"s":301,"c":"Y"},{"s":302,"c":"R"},{"s":304,"c":"O"},{"s":305,"c":"Y"},{"s":306,"c":"R"},{"s":308,"c":"O"},{"s":309,"c":"R"},{"s":311,"c":"Y"},{"s":312,"c":"O"},{"s":313,"c":"R"},{"s":315,"c":"Y"},{"s":316,"c":"R"},{"s":318,"c":"O"},{"s":319,"c":"Y"},{"s":320,"c":"R"},{"s":322,"c":"O"},{"s":323,"c":"R"},{"s":325,"c":"Y"},{"s":326,"c":"O"},{"s":327,"c":"R"},{"s":329,"c":"Y"},{"s":330,"c":"R"},{"s":332,"c":"O"},{"s":333,"c":"Y"},{"s":334,"c":"R"},{"s":336,"c":"O"},{"s":337,"c":"R"},{"s":339,"c":"Y"},{"s":340,"c":"O"},{"s":341,"c":"R"},{"s":343,"c":"Y"},{"s":344,"c":"R"},{"s":346,"c":"O"},{"s":347,"c":"Y"},{"s":348,"c":"R"},{"s":350,"c":"O"},{"s":351,"c":"R"},{"s":353,"c":"Y"},{"s":354,"c":"O"},{"s":355,"c":"R"},{"s":357,"c":"Y"},{"s":358,"c":"R"},{"s":360,"c":"O"},{"s":361,"c":"Y"},{"s":362,"c":"R"},{"s":364,"c":"O"},{"s":365,"c":"R"},{"s":367,"c":"Y"},{"s":368,"c":"O"},{"s":369,"c":"R"},{"s":371,"c":"Y"},{"s":372,"c":"R"},{"s":374,"c":"O"},{"s":375,"c":"Y"},{"s":376,"c":"R"},{"s":378,"c":"O"},{"s":379,"c":"R"},{"s":381,"c":"Y"},{"s":382,"c":"O"},{"s":383,"c":"R"},{"s":385,"c":"Y"},{"s":386,"c":"R"},{"s":388,"c":"O"},{"s":389,"c":"Y"},{"s":390,"c":"R"},{"s":392,"c":"O"},{"s":393,"c":"R"},{"s":395,"c":"Y"},{"s":396,"c":"O"},{"s":397,"c":"R"},{"s":399,"c":"Y"},{"s":400,"c":"R"},{"s":402,"c":"O"},{"s":403,"c":"Y"},{"s":406,"c":"O"},{"s":407,"c":"Y"},{"s":410,"c":"R"},{"s":411,"c":"Y"},{"s":413,"c":"O"},{"s":414,"c":"Y"},{"s":417,"c":"R"},{"s":418,"c":"Y"},{"s":420,"c":"O"},{"s":421,"c":"Y"},{"s":424,"c":"R"},{"s":426,"c":"O"},{"s":427,"c":"R"},{"s":429,"c":"Y"},{"s":430,"c":"O"},{"s":431,"c":"R"},{"s":433,"c":"Y"},{"s":434,"c":"R"},{"s":436,"c":"O"},{"s":437,"c":"Y"},{"s":438,"c":"R"},{"s":440,"c":"O"},{"s":441,"c":"R"},{"s":443,"c":"Y"},{"s":444,"c":"O"},{"s":445,"c":"R"},{"s":447,"c":"Y"},{"s":448,"c":"R"},{"s":450,"c":"O"},{"s":451,"c":"Y"},{"s":452,"c":"R"},{"s":454,"c":"O"},{"s":455,"c":"G"},{"s":456,"c":"Y"},{"s":457,"c":"R"},{"s":459,"c":"O"},{"s":460,"c":"R"},{"s":462,"c":"Y"},{"s":463,"c":"O"},{"s":464,"c":"Y"},{"s":467,"c":"R"},{"s":468,"c":"Y"},{"s":470,"c":"O"},{"s":471,"c":"Y"},{"s":474,"c":"R"},{"s":475,"c":"Y"},{"s":477,"c":"O"},{"s":478,"c":"Y"},{"s":481,"c":"R"},{"s":482,"c":"Y"},{"s":484,"c":"O"},{"s":485,"c":"Y"},{"s":488,"c":"R"},{"s":490,"c":"O"},{"s":491,"c":"R"},{"s":493,"c":"Y"},{"s":494,"c":"G"},{"s":495,"c":"Y"},{"s":496,"c":"R"},{"s":498,"c":"O"},{"s":499,"c":"R"},{"s":501,"c":"Y"},{"s":502,"c":"O"},{"s":503,"c":"R"},{"s":505,"c":"Y"},{"s":506,"c":"R"},{"s":508,"c":"O"},{"s":509,"c":"Y"},{"s":510,"c":"R"},{"s":512,"c":"O"},{"s":513,"c":"R"},{"s":515,"c":"Y"},{"s":516,"c":"O"},{"s":517,"c":"R"},{"s":519,"c":"Y"},{"s":520,"c":"R"},{"s":522,"c":"O"},{"s":523,"c":"Y"},{"s":524,"c":"R"},{"s":526,"c":"O"},{"s":527,"c":"R"},{"s":529,"c":"Y"},{"s":530,"c":"O"},{"s":531,"c":"R"},{"s":533,"c":"Y"},{"s":534,"c":"R"},{"s":536,"c":"O"},{"s":537,"c":"Y"},{"s":538,"c":"R"},{"s":540,"c":"O"},{"s":541,"c":"R"},{"s":543,"c":"Y"},{"s":544,"c":"O"},{"s":545,"c":"R"},{"s":547,"c":"Y"},{"s":548,"c":"R"},{"s":550,"c":"O"},{"s":551,"c":"Y"},{"s":552,"c":"R"},{"s":554,"c":"O"},{"s":555,"c":"R"},{"s":557,"c":"Y"},{"s":558,"c":"O"},{"s":559,"c":"R"},{"s":561,"c":"Y"},{"s":562,"c":"R"},{"s":564,"c":"O"},{"s":565,"c":"Y"},{"s":566,"c":"R"},{"s":568,"c":"O"},{"s":569,"c":"R"},{"s":571,"c":"Y"},{"s":572,"c":"O"},{"s":573,"c":"R"},{"s":575,"c":"Y"},{"s":576,"c":"R"},{"s":578,"c":"O"},{"s":579,"c":"Y"},{"s":580,"c":"R"},{"s":582,"c":"O"},{"s":583,"c":"R"},{"s":585,"c":"Y"},{"s":586,"c":"O"},{"s":587,"c":"R"},{"s":589,"c":"Y"},{"s":590,"c":"R"},{"s":592,"c":"O"},{"s":593,"c":"Y"},{"s":594,"c":"R"},{"s":596,"c":"O"},{"s":597,"c":"R"},{"s":599,"c":"Y"},{"s":600,"c":"O"},{"s":601,"c":"R"},{"s":603,"c":"Y"},{"s":604,"c":"R"},{"s":606,"c":"O"},{"s":607,"c":"Y"},{"s":608,"c":"R"},{"s":610,"c":"O"},{"s":611,"c":"R"},{"s":613,"c":"Y"},{"s":614,"c":"O"},{"s":615,"c":"R"}],
"c6":[{"s":0,"c":"R"},{"s":2,"c":"Y"},{"s":3,"c":"R"},{"s":5,"c":"O"},{"s":6,"c":"R"},{"s":8,"c":"Y"},{"s":9,"c":"R"},{"s":11,"c":"O"},{"s":12,"c":"R"},{"s":14,"c":"Y"},{"s":15,"c":"O"},{"s":16,"c":"R"},{"s":18,"c":"Y"},{"s":19,"c":"R"},{"s":21,"c":"O"},{"s":22,"c":"R"},{"s":24,"c":"Y"},{"s":25,"c":"R"},{"s":27,"c":"O"},{"s":28,"c":"Y"},{"s":29,"c":"R"},{"s":31,"c":"O"},{"s":32,"c":"R"},{"s":34,"c":"Y"},{"s":35,"c":"R"},{"s":37,"c":"O"},{"s":38,"c":"Y"},{"s":39,"c":"R"},{"s":41,"c":"O"},{"s":42,"c":"R"},{"s":44,"c":"Y"},{"s":45,"c":"R"},{"s":57,"c":"Y"},{"s":58,"c":"O"},{"s":59,"c":"R"},{"s":61,"c":"Y"},{"s":62,"c":"R"},{"s":64,"c":"O"},{"s":65,"c":"Y"},{"s":66,"c":"R"},{"s":68,"c":"O"},{"s":69,"c":"R"},{"s":71,"c":"Y"},{"s":72,"c":"R"},{"s":74,"c":"O"},{"s":75,"c":"Y"},{"s":76,"c":"R"},{"s":78,"c":"O"},{"s":79,"c":"R"},{"s":81,"c":"Y"},{"s":82,"c":"O"},{"s":83,"c":"R"},{"s":85,"c":"Y"},{"s":86,"c":"R"},{"s":88,"c":"O"},{"s":89,"c":"Y"},{"s":90,"c":"R"},{"s":92,"c":"O"},{"s":93,"c":"Y"},{"s":94,"c":"R"},{"s":108,"c":"O"},{"s":109,"c":"Y"},{"s":120,"c":"R"},{"s":122,"c":"O"},{"s":123,"c":"Y"},{"s":124,"c":"R"},{"s":126,"c":"O"},{"s":127,"c":"R"},{"s":129,"c":"Y"},{"s":130,"c":"O"},{"s":131,"c":"R"},{"s":132,"c":"Y"},{"s":138,"c":"R"},{"s":140,"c":"O"},{"s":141,"c":"Y"},{"s":142,"c":"R"},{"s":144,"c":"O"},{"s":145,"c":"R"},{"s":147,"c":"Y"},{"s":148,"c":"O"},{"s":149,"c":"R"},{"s":151,"c":"Y"},{"s":160,"c":"R"},{"s":162,"c":"O"},{"s":163,"c":"Y"},{"s":164,"c":"R"},{"s":166,"c":"O"},{"s":167,"c":"R"},{"s":169,"c":"Y"},{"s":170,"c":"O"},{"s":171,"c":"R"},{"s":173,"c":"Y"},{"s":174,"c":"R"},{"s":176,"c":"O"},{"s":177,"c":"Y"},{"s":178,"c":"R"},{"s":180,"c":"O"},{"s":181,"c":"R"},{"s":183,"c":"Y"},{"s":184,"c":"O"},{"s":185,"c":"R"},{"s":187,"c":"Y"},{"s":188,"c":"R"},{"s":190,"c":"O"},{"s":191,"c":"Y"},{"s":192,"c":"R"},{"s":194,"c":"O"},{"s":195,"c":"R"},{"s":197,"c":"Y"},{"s":198,"c":"O"},{"s":199,"c":"R"},{"s":201,"c":"Y"},{"s":202,"c":"R"},{"s":204,"c":"O"},{"s":205,"c":"Y"},{"s":206,"c":"R"},{"s":208,"c":"O"},{"s":209,"c":"R"},{"s":211,"c":"Y"},{"s":212,"c":"O"},{"s":213,"c":"R"},{"s":215,"c":"Y"},{"s":216,"c":"R"},{"s":218,"c":"O"},{"s":219,"c":"Y"},{"s":220,"c":"R"},{"s":222,"c":"O"},{"s":223,"c":"R"},{"s":225,"c":"Y"},{"s":226,"c":"O"},{"s":227,"c":"R"},{"s":229,"c":"Y"},{"s":230,"c":"R"},{"s":232,"c":"O"},{"s":233,"c":"Y"},{"s":234,"c":"R"},{"s":236,"c":"O"},{"s":237,"c":"R"},{"s":239,"c":"Y"},{"s":240,"c":"O"},{"s":241,"c":"R"},{"s":243,"c":"Y"},{"s":244,"c":"R"},{"s":246,"c":"O"},{"s":247,"c":"Y"},{"s":248,"c":"R"},{"s":250,"c":"O"},{"s":251,"c":"R"},{"s":253,"c":"Y"},{"s":254,"c":"O"},{"s":255,"c":"R"},{"s":257,"c":"Y"},{"s":258,"c":"R"},{"s":260,"c":"O"},{"s":261,"c":"Y"},{"s":262,"c":"R"},{"s":264,"c":"O"},{"s":265,"c":"R"},{"s":267,"c":"Y"},{"s":268,"c":"O"},{"s":269,"c":"R"},{"s":271,"c":"Y"},{"s":272,"c":"R"},{"s":274,"c":"O"},{"s":275,"c":"Y"},{"s":276,"c":"R"},{"s":278,"c":"O"},{"s":279,"c":"R"},{"s":281,"c":"Y"},{"s":282,"c":"O"},{"s":283,"c":"R"},{"s":285,"c":"Y"},{"s":286,"c":"R"},{"s":288,"c":"O"},{"s":289,"c":"Y"},{"s":290,"c":"R"},{"s":292,"c":"O"},{"s":293,"c":"R"},{"s":295,"c":"Y"},{"s":296,"c":"O"},{"s":297,"c":"R"},{"s":299,"c":"Y"},{"s":300,"c":"R"},{"s":302,"c":"O"},{"s":303,"c":"Y"},{"s":304,"c":"R"},{"s":306,"c":"O"},{"s":307,"c":"R"},{"s":309,"c":"Y"},{"s":310,"c":"O"},{"s":311,"c":"R"},{"s":313,"c":"Y"},{"s":314,"c":"R"},{"s":316,"c":"O"},{"s":317,"c":"Y"},{"s":318,"c":"R"},{"s":320,"c":"O"},{"s":321,"c":"R"},{"s":323,"c":"Y"},{"s":324,"c":"O"},{"s":325,"c":"R"},{"s":327,"c":"Y"},{"s":328,"c":"R"},{"s":330,"c":"O"},{"s":331,"c":"Y"},{"s":332,"c":"R"},{"s":334,"c":"O"},{"s":335,"c":"R"},{"s":337,"c":"Y"},{"s":338,"c":"O"},{"s":339,"c":"R"},{"s":341,"c":"Y"},{"s":342,"c":"R"},{"s":344,"c":"O"},{"s":345,"c":"Y"},{"s":346,"c":"R"},{"s":348,"c":"O"},{"s":349,"c":"R"},{"s":351,"c":"Y"},{"s":352,"c":"O"},{"s":353,"c":"R"},{"s":355,"c":"Y"},{"s":356,"c":"O"},{"s":357,"c":"R"},{"s":368,"c":"Y"},{"s":369,"c":"O"},{"s":370,"c":"R"},{"s":372,"c":"Y"},{"s":373,"c":"R"},{"s":375,"c":"O"},{"s":376,"c":"Y"},{"s":377,"c":"R"},{"s":379,"c":"O"},{"s":380,"c":"R"},{"s":382,"c":"Y"},{"s":383,"c":"O"},{"s":384,"c":"R"},{"s":386,"c":"Y"},{"s":387,"c":"O"},{"s":388,"c":"R"},{"s":391,"c":"Y"},{"s":408,"c":"O"},{"s":409,"c":"Y"},{"s":420,"c":"R"},{"s":422,"c":"O"},{"s":423,"c":"R"},{"s":425,"c":"Y"},{"s":426,"c":"R"},{"s":428,"c":"O"},{"s":429,"c":"Y"},{"s":430,"c":"R"},{"s":432,"c":"O"},{"s":433,"c":"R"},{"s":435,"c":"Y"},{"s":436,"c":"O"},{"s":437,"c":"R"},{"s":439,"c":"Y"},{"s":440,"c":"R"},{"s":442,"c":"O"},{"s":443,"c":"Y"},{"s":444,"c":"R"},{"s":446,"c":"O"},{"s":447,"c":"R"},{"s":449,"c":"Y"},{"s":450,"c":"O"},{"s":451,"c":"R"},{"s":453,"c":"Y"},{"s":454,"c":"R"},{"s":456,"c":"O"},{"s":457,"c":"Y"},{"s":458,"c":"R"},{"s":460,"c":"O"},{"s":461,"c":"R"},{"s":463,"c":"Y"},{"s":464,"c":"O"},{"s":465,"c":"R"},{"s":467,"c":"Y"},{"s":468,"c":"R"},{"s":470,"c":"O"},{"s":471,"c":"Y"},{"s":472,"c":"R"},{"s":474,"c":"O"},{"s":475,"c":"R"},{"s":477,"c":"Y"},{"s":478,"c":"O"},{"s":479,"c":"R"},{"s":481,"c":"Y"},{"s":482,"c":"R"},{"s":484,"c":"O"},{"s":485,"c":"Y"},{"s":486,"c":"R"},{"s":488,"c":"O"},{"s":489,"c":"R"},{"s":491,"c":"Y"},{"s":492,"c":"O"},{"s":493,"c":"R"},{"s":495,"c":"Y"},{"s":496,"c":"R"},{"s":498,"c":"O"},{"s":499,"c":"Y"},{"s":500,"c":"R"},{"s":502,"c":"O"},{"s":503,"c":"R"},{"s":505,"c":"Y"},{"s":506,"c":"O"},{"s":507,"c":"R"},{"s":509,"c":"Y"},{"s":510,"c":"R"},{"s":512,"c":"O"},{"s":513,"c":"Y"},{"s":514,"c":"R"},{"s":516,"c":"O"},{"s":517,"c":"R"},{"s":519,"c":"Y"},{"s":520,"c":"O"},{"s":521,"c":"R"},{"s":523,"c":"Y"},{"s":524,"c":"R"},{"s":526,"c":"O"},{"s":527,"c":"Y"},{"s":528,"c":"R"},{"s":530,"c":"O"},{"s":531,"c":"R"},{"s":533,"c":"Y"},{"s":534,"c":"O"},{"s":535,"c":"R"},{"s":537,"c":"Y"},{"s":538,"c":"R"},{"s":540,"c":"O"},{"s":541,"c":"Y"},{"s":542,"c":"R"},{"s":544,"c":"O"},{"s":545,"c":"R"},{"s":547,"c":"Y"},{"s":548,"c":"O"},{"s":549,"c":"R"},{"s":551,"c":"Y"},{"s":552,"c":"R"},{"s":554,"c":"O"},{"s":555,"c":"Y"},{"s":556,"c":"R"},{"s":558,"c":"O"},{"s":559,"c":"R"},{"s":561,"c":"Y"},{"s":562,"c":"O"},{"s":563,"c":"R"},{"s":565,"c":"O"},{"s":566,"c":"R"},{"s":568,"c":"Y"},{"s":574,"c":"G"},{"s":575,"c":"O"},{"s":576,"c":"R"},{"s":578,"c":"Y"},{"s":579,"c":"R"},{"s":581,"c":"O"},{"s":582,"c":"Y"},{"s":583,"c":"R"},{"s":585,"c":"O"},{"s":586,"c":"R"},{"s":588,"c":"Y"},{"s":589,"c":"O"},{"s":590,"c":"R"},{"s":592,"c":"Y"},{"s":593,"c":"R"},{"s":595,"c":"O"},{"s":596,"c":"Y"},{"s":597,"c":"R"},{"s":599,"c":"O"},{"s":600,"c":"R"},{"s":602,"c":"Y"},{"s":603,"c":"O"},{"s":604,"c":"R"},{"s":606,"c":"Y"},{"s":607,"c":"R"},{"s":609,"c":"O"},{"s":610,"c":"Y"},{"s":611,"c":"R"},{"s":613,"c":"O"},{"s":614,"c":"R"},{"s":616,"c":"Y"},{"s":617,"c":"R"}]
},
"spacing":10,
"vconcat":[
{"spacing":0,"bounds":"flush","hconcat":[
{"width":22,"height":30,"view":{"fill":"white","stroke":"black"},"data":{"name":"t1"},"transform":[{"filter":"datum.col=='Chr'"}],"layer":[
{"transform":[{"filter":"datum.r=='d'"}],"mark":{"type":"rule","color":"black"},"encoding":{"y":{"field":"r","type":"nominal","bandPosition":0,"scale":{"domain":["h","d"],"paddingInner":0,"paddingOuter":0},"axis":null}}},
{"mark":{"type":"text","font":"Liberation Serif","fontSize":10,"color":"black"},"encoding":{"y":{"field":"r","type":"nominal","scale":{"domain":["h","d"],"paddingInner":0,"paddingOuter":0},"axis":null},"text":{"field":"t"}}}]},
{"width":60,"height":30,"view":{"fill":"white","stroke":"black"},"data":{"name":"t1"},"transform":[{"filter":"datum.col=='Start'"}],"layer":[
{"transform":[{"filter":"datum.r=='d'"}],"mark":{"type":"rule","color":"black"},"encoding":{"y":{"field":"r","type":"nominal","bandPosition":0,"scale":{"domain":["h","d"],"paddingInner":0,"paddingOuter":0},"axis":null}}},
{"mark":{"type":"text","font":"Liberation Serif","fontSize":10,"color":"black"},"encoding":{"y":{"field":"r","type":"nominal","scale":{"domain":["h","d"],"paddingInner":0,"paddingOuter":0},"axis":null},"text":{"field":"t"}}}]},
{"width":57,"height":30,"view":{"fill":"white","stroke":"black"},"data":{"name":"t1"},"transform":[{"filter":"datum.col=='End'"}],"layer":[
{"transform":[{"filter":"datum.r=='d'"}],"mark":{"type":"rule","color":"black"},"encoding":{"y":{"field":"r","type":"nominal","bandPosition":0,"scale":{"domain":["h","d"],"paddingInner":0,"paddingOuter":0},"axis":null}}},
{"mark":{"type":"text","font":"Liberation Serif","fontSize":10,"color":"black"},"encoding":{"y":{"field":"r","type":"nominal","scale":{"domain":["h","d"],"paddingInner":0,"paddingOuter":0},"axis":null},"text":{"field":"t"}}}]},
{"width":84,"height":30,"view":{"fill":"white","stroke":"black"},"data":{"name":"t1"},"transform":[{"filter":"datum.col=='cM'"}],"layer":[
{"transform":[{"filter":"datum.r=='d'"}],"mark":{"type":"rule","color":"black"},"encoding":{"y":{"field":"r","type":"nominal","bandPosition":0,"scale":{"domain":["h","d"],"paddingInner":0,"paddingOuter":0},"axis":null}}},
{"mark":{"type":"text","font":"Liberation Serif","fontSize":10,"color":"black"},"encoding":{"y":{"field":"r","type":"nominal","scale":{"domain":["h","d"],"paddingInner":0,"paddingOuter":0},"axis":null},"text":{"field":"t"}}}]},
{"width":25,"height":30,"view":{"fill":"white","stroke":"black"},"data":{"name":"t1"},"transform":[{"filter":"datum.col=='SNPs'"}],"layer":[
{"transform":[{"filter":"datum.r=='d'"}],"mark":{"type":"rule","color":"black"},"encoding":{"y":{"field":"r","type":"nominal","bandPosition":0,"scale":{"domain":["h","d"],"paddingInner":0,"paddingOuter":0},"axis":null}}},
{"mark":{"type":"text","font":"Liberation Serif","fontSize":10,"color":"black"},"encoding":{"y":{"field":"r","type":"nominal","scale":{"domain":["h","d"],"paddingInner":0,"paddingOuter":0},"axis":null},"text":{"field":"t"}}}]}
]},
{"spacing":0,"vconcat":[
{"width":622,"height":14,"data":{"name":"c2"},"title":{"text":"Chr 2","anchor":"start","fontSize":10.5,"offset":3},"mark":"rect","encoding":{"x":{"field":"s","type":"quantitative","scale":{"domain":[0,622],"nice":false},"axis":null},"x2":{"datum":622},"color":{"field":"c","type":"nominal","scale":{"domain":["R","O","Y","G","chrom","match"],"range":["#FF4444","#F7A030","#FFFF00","#A8D410","#808080","#0000FF"]},"legend":null}}},
{"width":622,"height":10,"data":{"values":[{"c":"chrom","s":0,"e":622},{"c":"match","s":519,"e":551}]},"mark":"rect","encoding":{"x":{"field":"s","type":"quantitative","scale":{"domain":[0,622],"nice":false},"axis":{"title":"Image size reduction: 1/56","labels":false,"ticks":false,"domain":false,"grid":false,"titleAnchor":"start","titleAlign":"left","titleFontSize":6.7,"titleFontWeight":"normal","titleColor":"black","titleFont":"Liberation Serif","titlePadding":2}},"x2":{"field":"e"},"color":{"field":"c","type":"nominal","scale":{"domain":["R","O","Y","G","chrom","match"],"range":["#FF4444","#F7A030","#FFFF00","#A8D410","#808080","#0000FF"]},"legend":null}}}
]},
{"spacing":0,"vconcat":[
{"width":621,"height":14,"data":{"name":"c3"},"title":{"text":"Chr 3","anchor":"start","fontSize":10.5,"offset":3},"mark":"rect","encoding":{"x":{"field":"s","type":"quantitative","scale":{"domain":[0,621],"nice":false},"axis":null},"x2":{"datum":621},"color":{"field":"c","type":"nominal","scale":{"domain":["R","O","Y","G","chrom","match"],"range":["#FF4444","#F7A030","#FFFF00","#A8D410","#808080","#0000FF"]},"legend":null}}},
{"width":621,"height":10,"data":{"values":[{"c":"chrom","s":0,"e":621}]},"mark":"rect","encoding":{"x":{"field":"s","type":"quantitative","scale":{"domain":[0,621],"nice":false},"axis":{"title":"Image size reduction: 1/46","labels":false,"ticks":false,"domain":false,"grid":false,"titleAnchor":"start","titleAlign":"left","titleFontSize":6.7,"titleFontWeight":"normal","titleColor":"black","titleFont":"Liberation Serif","titlePadding":2}},"x2":{"field":"e"},"color":{"field":"c","type":"nominal","scale":{"domain":["R","O","Y","G","chrom","match"],"range":["#FF4444","#F7A030","#FFFF00","#A8D410","#808080","#0000FF"]},"legend":null}}}
]},
{"spacing":0,"vconcat":[
{"width":622,"height":14,"data":{"name":"c4"},"title":{"text":"Chr 4","anchor":"start","fontSize":10.5,"offset":3},"mark":"rect","encoding":{"x":{"field":"s","type":"quantitative","scale":{"domain":[0,622],"nice":false},"axis":null},"x2":{"datum":622},"color":{"field":"c","type":"nominal","scale":{"domain":["R","O","Y","G","chrom","match"],"range":["#FF4444","#F7A030","#FFFF00","#A8D410","#808080","#0000FF"]},"legend":null}}},
{"width":622,"height":10,"data":{"values":[{"c":"chrom","s":0,"e":622}]},"mark":"rect","encoding":{"x":{"field":"s","type":"quantitative","scale":{"domain":[0,622],"nice":false},"axis":{"title":"Image size reduction: 1/39","labels":false,"ticks":false,"domain":false,"grid":false,"titleAnchor":"start","titleAlign":"left","titleFontSize":6.7,"titleFontWeight":"normal","titleColor":"black","titleFont":"Liberation Serif","titlePadding":2}},"x2":{"field":"e"},"color":{"field":"c","type":"nominal","scale":{"domain":["R","O","Y","G","chrom","match"],"range":["#FF4444","#F7A030","#FFFF00","#A8D410","#808080","#0000FF"]},"legend":null}}}
]},
{"spacing":8,"vconcat":[
{"spacing":0,"vconcat":[
{"width":618,"height":14,"data":{"name":"c5"},"title":{"text":"Chr 5","anchor":"start","fontSize":10.5,"offset":3},"mark":"rect","encoding":{"x":{"field":"s","type":"quantitative","scale":{"domain":[0,618],"nice":false},"axis":null},"x2":{"datum":618},"color":{"field":"c","type":"nominal","scale":{"domain":["R","O","Y","G","chrom","match"],"range":["#FF4444","#F7A030","#FFFF00","#A8D410","#808080","#0000FF"]},"legend":null}}},
{"width":618,"height":10,"data":{"values":[{"c":"chrom","s":0,"e":618}]},"mark":"rect","encoding":{"x":{"field":"s","type":"quantitative","scale":{"domain":[0,618],"nice":false},"axis":{"title":"Image size reduction: 1/41","labels":false,"ticks":false,"domain":false,"grid":false,"titleAnchor":"start","titleAlign":"left","titleFontSize":6.7,"titleFontWeight":"normal","titleColor":"black","titleFont":"Liberation Serif","titlePadding":2}},"x2":{"field":"e"},"color":{"field":"c","type":"nominal","scale":{"domain":["R","O","Y","G","chrom","match"],"range":["#FF4444","#F7A030","#FFFF00","#A8D410","#808080","#0000FF"]},"legend":null}}}
]},
{"spacing":13,"vconcat":[
{"spacing":0,"bounds":"flush","hconcat":[
{"width":22,"height":30,"view":{"fill":"white","stroke":"black"},"data":{"name":"t2"},"transform":[{"filter":"datum.col=='Chr'"}],"layer":[
{"transform":[{"filter":"datum.r=='d'"}],"mark":{"type":"rule","color":"black"},"encoding":{"y":{"field":"r","type":"nominal","bandPosition":0,"scale":{"domain":["h","d"],"paddingInner":0,"paddingOuter":0},"axis":null}}},
{"mark":{"type":"text","font":"Liberation Serif","fontSize":10,"color":"black"},"encoding":{"y":{"field":"r","type":"nominal","scale":{"domain":["h","d"],"paddingInner":0,"paddingOuter":0},"axis":null},"text":{"field":"t"}}}]},
{"width":57,"height":30,"view":{"fill":"white","stroke":"black"},"data":{"name":"t2"},"transform":[{"filter":"datum.col=='Start'"}],"layer":[
{"transform":[{"filter":"datum.r=='d'"}],"mark":{"type":"rule","color":"black"},"encoding":{"y":{"field":"r","type":"nominal","bandPosition":0,"scale":{"domain":["h","d"],"paddingInner":0,"paddingOuter":0},"axis":null}}},
{"mark":{"type":"text","font":"Liberation Serif","fontSize":10,"color":"black"},"encoding":{"y":{"field":"r","type":"nominal","scale":{"domain":["h","d"],"paddingInner":0,"paddingOuter":0},"axis":null},"text":{"field":"t"}}}]},
{"width":58,"height":30,"view":{"fill":"white","stroke":"black"},"data":{"name":"t2"},"transform":[{"filter":"datum.col=='End'"}],"layer":[
{"transform":[{"filter":"datum.r=='d'"}],"mark":{"type":"rule","color":"black"},"encoding":{"y":{"field":"r","type":"nominal","bandPosition":0,"scale":{"domain":["h","d"],"paddingInner":0,"paddingOuter":0},"axis":null}}},
{"mark":{"type":"text","font":"Liberation Serif","fontSize":10,"color":"black"},"encoding":{"y":{"field":"r","type":"nominal","scale":{"domain":["h","d"],"paddingInner":0,"paddingOuter":0},"axis":null},"text":{"field":"t"}}}]},
{"width":86,"height":30,"view":{"fill":"white","stroke":"black"},"data":{"name":"t2"},"transform":[{"filter":"datum.col=='cM'"}],"layer":[
{"transform":[{"filter":"datum.r=='d'"}],"mark":{"type":"rule","color":"black"},"encoding":{"y":{"field":"r","type":"nominal","bandPosition":0,"scale":{"domain":["h","d"],"paddingInner":0,"paddingOuter":0},"axis":null}}},
{"mark":{"type":"text","font":"Liberation Serif","fontSize":10,"color":"black"},"encoding":{"y":{"field":"r","type":"nominal","scale":{"domain":["h","d"],"paddingInner":0,"paddingOuter":0},"axis":null},"text":{"field":"t"}}}]},
{"width":25,"height":30,"view":{"fill":"white","stroke":"black"},"data":{"name":"t2"},"transform":[{"filter":"datum.col=='SNPs'"}],"layer":[
{"transform":[{"filter":"datum.r=='d'"}],"mark":{"type":"rule","color":"black"},"encoding":{"y":{"field":"r","type":"nominal","bandPosition":0,"scale":{"domain":["h","d"],"paddingInner":0,"paddingOuter":0},"axis":null}}},
{"mark":{"type":"text","font":"Liberation Serif","fontSize":10,"color":"black"},"encoding":{"y":{"field":"r","type":"nominal","scale":{"domain":["h","d"],"paddingInner":0,"paddingOuter":0},"axis":null},"text":{"field":"t"}}}]}
]},
{"spacing":0,"vconcat":[
{"width":619,"height":15,"data":{"name":"c6"},"title":{"text":"Chr 6","anchor":"start","fontSize":10.5,"offset":3},"mark":"rect","encoding":{"x":{"field":"s","type":"quantitative","scale":{"domain":[0,619],"nice":false},"axis":null},"x2":{"datum":619},"color":{"field":"c","type":"nominal","scale":{"domain":["R","O","Y","G","chrom","match"],"range":["#FF4444","#F7A030","#FFFF00","#A8D410","#808080","#0000FF"]},"legend":null}}},
{"width":619,"height":10,"data":{"values":[{"c":"chrom","s":0,"e":619},{"c":"match","s":391,"e":420}]},"mark":"rect","encoding":{"x":{"field":"s","type":"quantitative","scale":{"domain":[0,619],"nice":false},"axis":{"title":"Image size reduction: 1/47","labels":false,"ticks":false,"domain":false,"grid":false,"titleAnchor":"start","titleAlign":"left","titleFontSize":6.7,"titleFontWeight":"normal","titleColor":"black","titleFont":"Liberation Serif","titlePadding":2}},"x2":{"field":"e"},"color":{"field":"c","type":"nominal","scale":{"domain":["R","O","Y","G","chrom","match"],"range":["#FF4444","#F7A030","#FFFF00","#A8D410","#808080","#0000FF"]},"legend":null}}}
]}
]}
]}
]
}
